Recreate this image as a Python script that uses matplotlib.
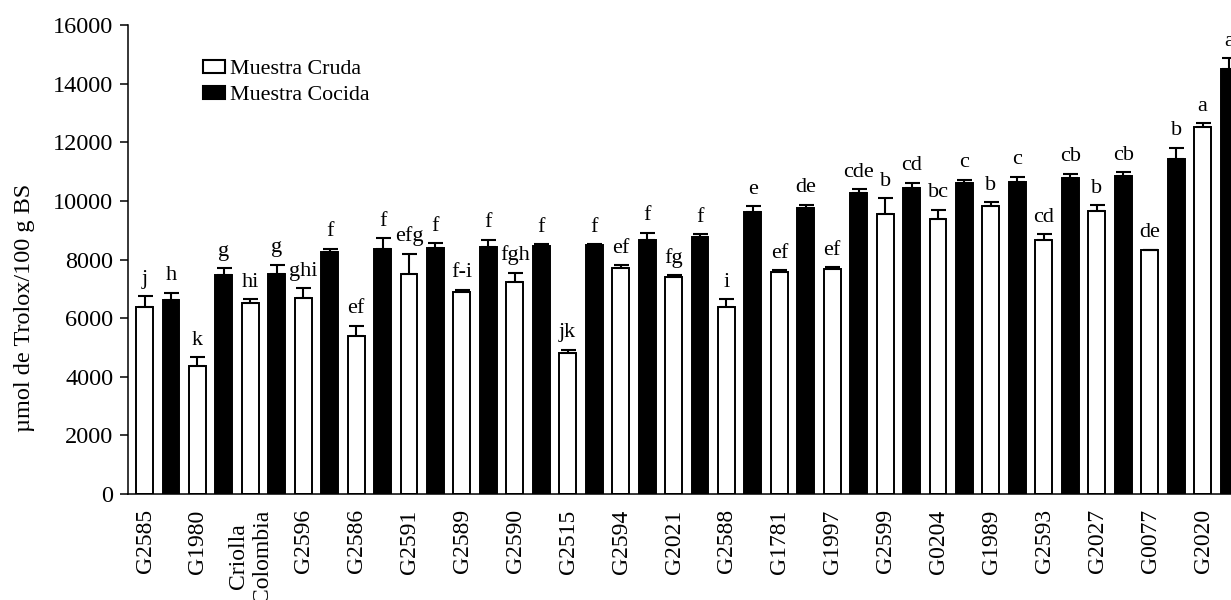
import numpy as np
import matplotlib
matplotlib.use('Agg')
import matplotlib.pyplot as plt
import matplotlib.patches as mpatches

plt.rcParams['font.family'] = ['Liberation Serif', 'DejaVu Serif']

# ---------------------------------------------------------------------------------------------------------------------
# data
categories = ['G2585', 'G1980', 'Criolla\nColombia', 'G2596', 'G2586', 'G2591', 'G2589', 'G2590', 'G2515',
              'G2594', 'G2021', 'G2588', 'G1781', 'G1997', 'G2599', 'G0204', 'G1989', 'G2593', 'G2027',
              'G0077', 'G2020']

cruda = [6370, 4380, 6520, 6690, 5400, 7520, 6890, 7245, 4800, 7700, 7415,
         6390, 7585, 7690, 9565, 9370, 9840, 8680, 9670, 8315, 12530]
cruda_err = [380, 280, 125, 330, 340, 680, 70, 310, 125, 100, 50,
             260, 55, 45, 530, 330, 110, 180, 180, 20, 110]
cruda_letters = ['j', 'k', 'hi', 'ghi', 'ef', 'efg', 'f-i', 'fgh', 'jk', 'ef', 'fg',
                 'i', 'ef', 'ef', 'b', 'bc', 'b', 'cd', 'b', 'de', 'a']

cocida = [6630, 7460, 7520, 8270, 8360, 8380, 8430, 8475, 8495, 8680, 8770,
          9630, 9770, 10260, 10450, 10600, 10655, 10795, 10860, 11440, 14500]
cocida_err = [240, 240, 300, 100, 370, 170, 240, 50, 30, 230, 90,
              180, 90, 140, 160, 125, 170, 135, 110, 365, 365]
cocida_letters = ['h', 'g', 'g', 'f', 'f', 'f', 'f', 'f', 'f', 'f', 'f',
                  'e', 'de', 'cde', 'cd', 'c', 'c', 'cb', 'cb', 'b', 'a']

yticks = [0, 2000, 4000, 6000, 8000, 10000, 12000, 14000, 16000]

# ---------------------------------------------------------------------------------------------------------------------
W, H = 1231, 600
fig = plt.figure(figsize=(W / 100, H / 100), dpi=100)

px_unit = 52.9  # pixels per category
x_left = -0.5624
x_right = 20.6
ax = fig.add_axes([128 / W, (H - 494) / H, (x_right - x_left) * px_unit / W, 469 / H])

x = np.arange(len(categories))
off = 0.25
bw = 0.32

ax.bar(x - off, cruda, bw, color='white', edgecolor='black', linewidth=1.4, zorder=2)
ax.bar(x + off, cocida, bw, color='black', edgecolor='black', linewidth=1.4, zorder=2)

zeros = np.zeros(len(categories))
ax.errorbar(x - off, cruda, yerr=[zeros, cruda_err], fmt='none', ecolor='black',
            elinewidth=1.5, capsize=5.4, capthick=1.5, zorder=3)
ax.errorbar(x + off, cocida, yerr=[zeros, cocida_err], fmt='none', ecolor='black',
            elinewidth=1.5, capsize=5.4, capthick=1.5, zorder=3)

# significance letters
for i in range(len(categories)):
    ax.annotate(cruda_letters[i], (x[i] - off, cruda[i] + cruda_err[i]), xytext=(0, 9),
                textcoords='offset points', ha='center', va='baseline', fontsize=16, clip_on=False)
    ax.annotate(cocida_letters[i], (x[i] + off, cocida[i] + cocida_err[i]), xytext=(0, 9),
                textcoords='offset points', ha='center', va='baseline', fontsize=16, clip_on=False)

ax.set_xlim(x_left, x_right)
ax.set_ylim(0, 16000)
ax.set_yticks(yticks)
ax.set_yticklabels([str(v) for v in yticks], fontsize=17.5)
ax.set_xticks(x - 0.24)
ax.set_xticklabels(categories, rotation=90, fontsize=17, ha='center', va='top', multialignment='center')
ax.tick_params(axis='x', length=0, pad=11)
ax.tick_params(axis='y', direction='out', length=5.5, width=1.1, pad=5)

for s in ['top', 'right']:
    ax.spines[s].set_visible(False)
for s in ['left', 'bottom']:
    ax.spines[s].set_linewidth(1.1)

fig.text(25 / W, 1 - 308 / H, 'µmol de Trolox/100 g BS', rotation=90, ha='center', va='center', fontsize=17.5)

handles = [mpatches.Rectangle((0, 0), 1, 1, facecolor='white', edgecolor='black', linewidth=1.5),
           mpatches.Rectangle((0, 0), 1, 1, facecolor='black', edgecolor='black', linewidth=1.5)]
ax.legend(handles, ['Muestra Cruda', 'Muestra Cocida'], loc='upper left',
          bbox_to_anchor=((203 - 128) / ((x_right - x_left) * px_unit), (494 - 60) / 469),
          frameon=False, fontsize=15.8, borderpad=0, borderaxespad=0, handlelength=1.0,
          handleheight=0.55, handletextpad=0.25, labelspacing=0.3)

fig.savefig('out.png', dpi=100)
